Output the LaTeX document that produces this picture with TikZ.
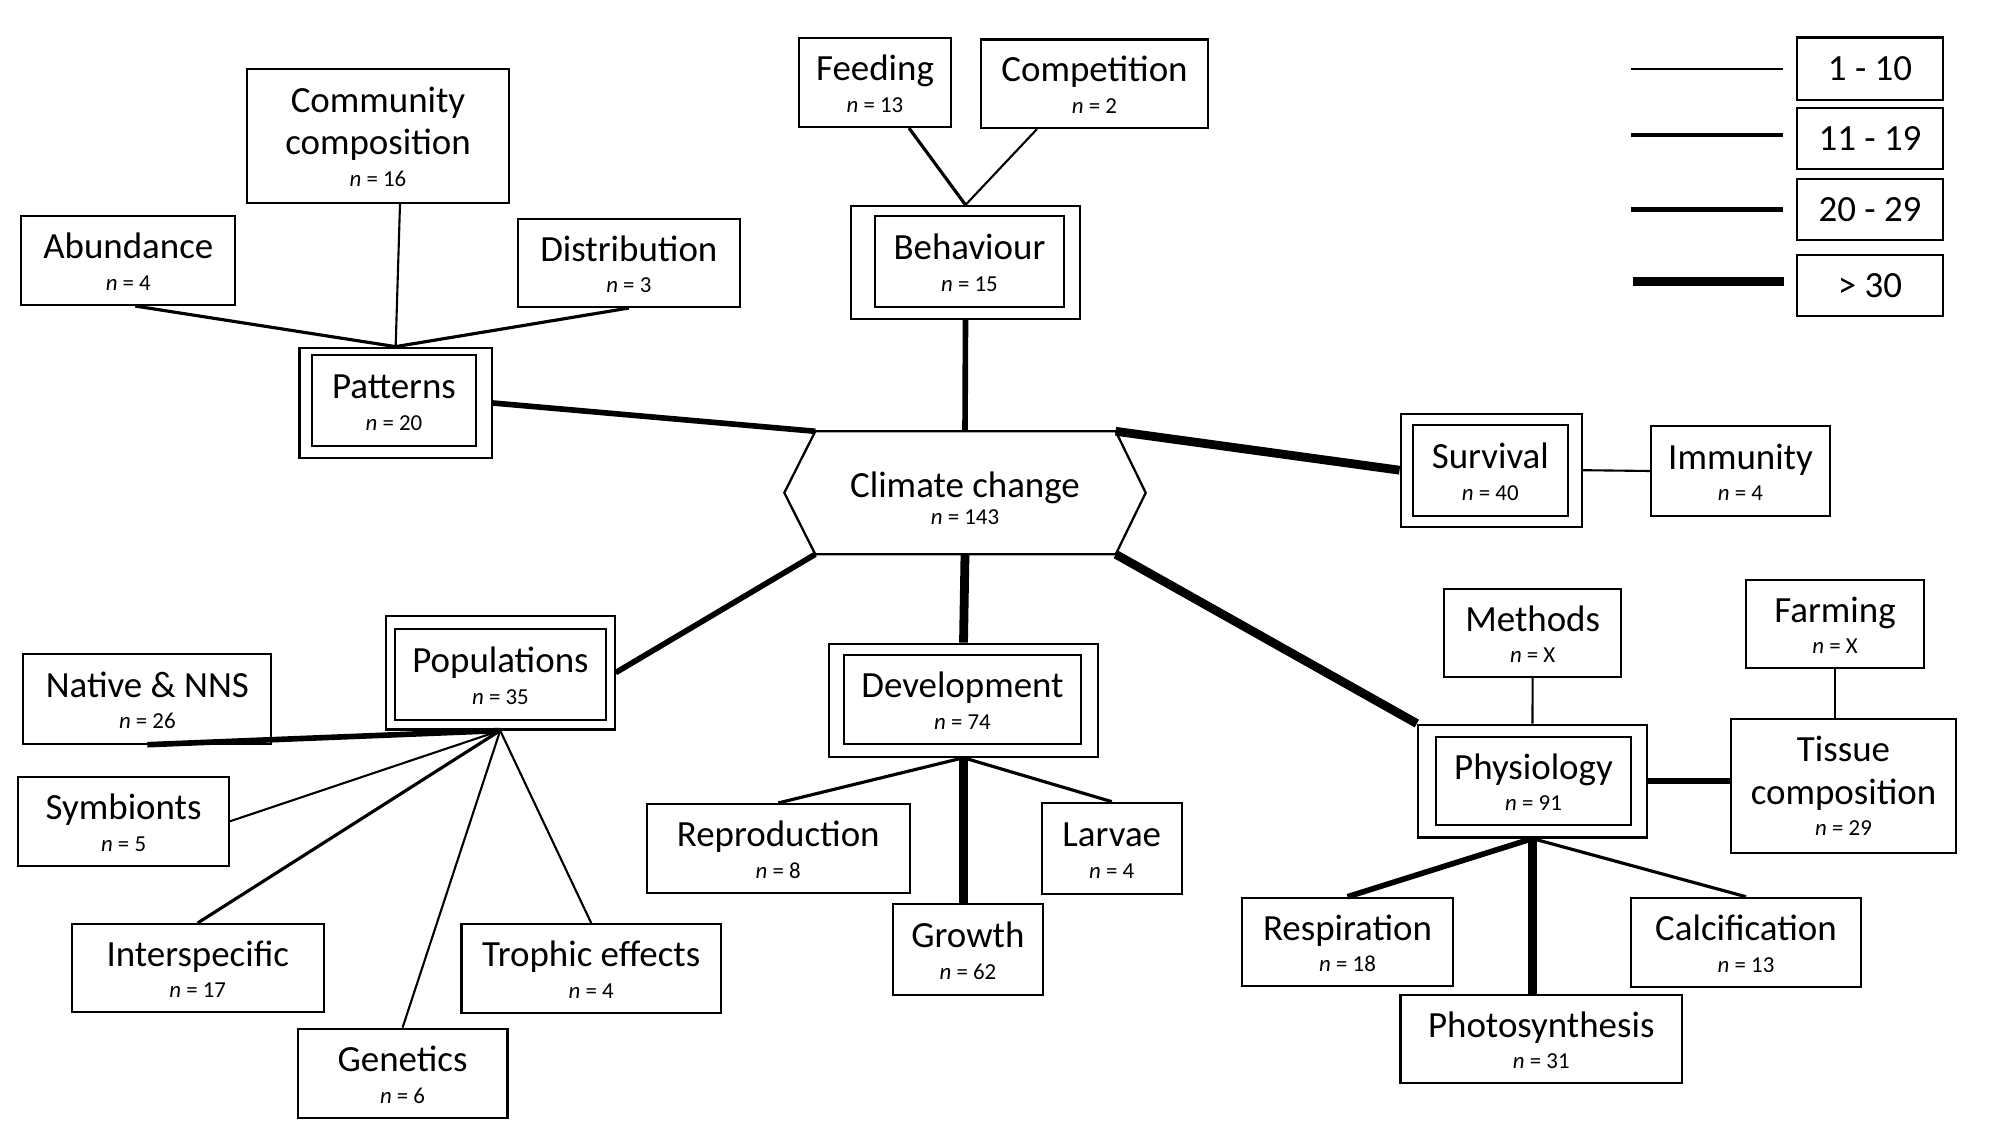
\documentclass[tikz,border=0pt]{standalone}
\usepackage{fontspec}
\setmainfont{Carlito}
\usetikzlibrary{calc}
\newcommand\nval[1]{{\fontsize{6.5}{7}\selectfont\textit{n} = #1}}
% #1 raise of first baseline above centre, #2 baseline skip, #3 title, #4 n
\newcommand\lab[4]{\smash{\raisebox{#1}{\vtop{\baselineskip=#2\lineskiplimit=-100pt\lineskip=0pt\halign{\hfil##\hfil\cr #3\cr\nval{#4}\cr}}}}}
\newcommand\lb[2]{\lab{0.5pt}{9pt}{#1}{#2}}
\tikzset{
  box/.style={draw, line width=0.6pt, inner sep=0pt, font=\fontsize{10.5}{12}\selectfont},
  sz/.style 2 args={minimum width=#1*0.01cm, minimum height=#2*0.01cm},
  wa/.style={line width=0.6pt},
  wb/.style={line width=0.9pt},
  wc/.style={line width=1.6pt},
  wd/.style={line width=2.5pt},
}
\begin{document}
\begin{tikzpicture}[x=0.01cm,y=-0.01cm]
\useasboundingbox (0,0) rectangle (2000,1125);

% ---------- legend ----------
\node[box,sz={146}{62.5}] (leg1) at (1870,68.75) {1 - 10};
\node[box,sz={146}{61}]   (leg2) at (1870,138.5) {11 - 19};
\node[box,sz={146}{61.4}] (leg3) at (1870,209.3) {20 - 29};
\node[box,sz={146}{61.4}] (leg4) at (1870,285.3) {> 30};
\coordinate (lg1a) at (1631,68.6);  \coordinate (lg1b) at (1783,68.6);
\coordinate (lg2a) at (1631,135);   \coordinate (lg2b) at (1783,135);
\coordinate (lg3a) at (1631,209.6); \coordinate (lg3b) at (1783,209.6);
\coordinate (lg4a) at (1633,281.8); \coordinate (lg4b) at (1784,281.8);
\draw[wa] (lg1a) -- (lg1b);
\draw[wb] (lg2a) -- (lg2b);
\draw[wc] (lg3a) -- (lg3b);
\draw[wd] (lg4a) -- (lg4b);

% ---------- centre hexagon ----------
\node[inner sep=0pt,sz={360}{121.6},font=\fontsize{10.5}{12}\selectfont] (hex) at (965,492.8)
  {\lab{-1.2pt}{7.7pt}{Climate change}{143}};
\coordinate (hexTL) at ($(hex.north west)+(31,0)$);
\coordinate (hexTR) at ($(hex.north east)+(-30,0)$);
\coordinate (hexBL) at ($(hex.south west)+(31,0)$);
\coordinate (hexBR) at ($(hex.south east)+(-30,0)$);
\draw[line width=0.65pt, line join=miter] (hex.west) -- (hexTL) -- (hexTR) -- (hex.east) -- (hexBR) -- (hexBL) -- cycle;

% ---------- behaviour ----------
\node[box,sz={152}{89}]   (feeding) at (875,82.5) {\lb{Feeding}{13}};
\node[box,sz={227}{88.5}] (competition) at (1094.5,83.75) {\lb{Competition}{2}};
\node[box,sz={229}{113}]  (behaviour) at (965.5,262.5) {};
\node[box,sz={189}{91}]   (behaviourIn) at (969.5,261.5) {\lb{Behaviour}{15}};

% ---------- patterns ----------
\node[box,sz={192.3}{110.6}] (patterns) at (395.65,403) {};
\node[box,sz={164}{91.3}]    (patternsIn) at (394,400.35) {\lb{Patterns}{20}};
\node[box,sz={261.3}{134}]   (community) at (378,136) {\lab{6.8pt}{9pt}{Community\cr\noalign{\vskip3.2pt}composition}{16}};
\node[box,sz={213.8}{89.3}]  (abundance) at (128.3,260.35) {\lb{Abundance}{4}};
\node[box,sz={221.9}{88.3}]  (distribution) at (628.85,262.85) {\lb{Distribution}{3}};

% ---------- survival ----------
\node[box,sz={181.4}{113.2}] (survival) at (1491.3,470.2) {};
\node[box,sz={155.4}{91.4}]  (survivalIn) at (1490.3,470.3) {\lb{Survival}{40}};
\node[box,sz={179}{90}]      (immunity) at (1740.5,471) {\lb{Immunity}{4}};

% ---------- populations ----------
\node[box,sz={228.8}{113.7}] (populations) at (500.2,672.65) {};
\node[box,sz={211}{91.3}]    (populationsIn) at (500.5,674.35) {\lb{Populations}{35}};
\node[box,sz={248.1}{89.3}]  (native) at (147.35,699) {\lb{Native \& NNS}{26}};
\node[box,sz={210.4}{89.3}]  (symbionts) at (123.6,821.35) {\lb{Symbionts}{5}};
\node[box,sz={252.1}{88}]    (interspecific) at (197.75,968) {\lb{Interspecific}{17}};
\node[box,sz={259.3}{88.7}]  (trophic) at (591.15,968.35) {\lb{Trophic effects}{4}};
\node[box,sz={209.9}{89.3}]  (genetics) at (402.55,1073.35) {\lb{Genetics}{6}};

% ---------- development ----------
\node[box,sz={269.8}{113}]  (development) at (963.5,700.2) {};
\node[box,sz={237.1}{89}]   (developmentIn) at (962.45,699.5) {\lb{Development}{74}};
\node[box,sz={262.9}{89}]   (reproduction) at (778.25,848.5) {\lb{Reproduction}{8}};
\node[box,sz={140.1}{91.3}] (larvae) at (1111.75,848.35) {\lb{Larvae}{4}};
\node[box,sz={150}{91}]     (growth) at (967.9,949.5) {\lb{Growth}{62}};

% ---------- physiology ----------
\node[box,sz={229.1}{112.9}] (physiology) at (1532.45,781.05) {};
\node[box,sz={195}{88.3}]    (physiologyIn) at (1533.5,780.85) {\lb{Physiology}{91}};
\node[box,sz={177.5}{88.4}]  (methods) at (1532.65,632.8) {\lb{Methods}{X}};
\node[box,sz={178}{88.4}]    (farming) at (1835,623.8) {\lb{Farming}{X}};
\node[box,sz={225}{134.3}]   (tissue) at (1843.5,785.85) {\lab{7pt}{9pt}{Tissue\cr\noalign{\vskip3.2pt}composition}{29}};
\node[box,sz={211}{88.2}]    (respiration) at (1347.5,941.9) {\lb{Respiration}{18}};
\node[box,sz={230}{89.2}]    (calcification) at (1746,942.4) {\lb{Calcification}{13}};
\node[box,sz={281.5}{88.8}]  (photosynthesis) at (1541.25,1039) {\lb{Photosynthesis}{31}};

% ---------- connectors ----------
% behaviour branch
\draw[wb] ($(feeding.south)+(34,0)$) -- (behaviour.north);
\draw[wa] ($(competition.south)+(-57.5,0)$) -- (behaviour.north);
\draw[wc] (behaviour.south) -- (hex.north);
% patterns branch
\draw[wb] ($(abundance.south)+(7,0)$) -- (patterns.north);
\draw[wa] ($(community.south)+(22,0)$) -- (patterns.north);
\draw[wb] (distribution.south) -- (patterns.north);
\draw[wc] (patterns.east) -- (hexTL);
% survival branch
\draw[wd] (survival.west) -- (hexTR);
\draw[wa] (survival.east) -- (immunity.west);
% populations branch
\draw[wc] (populations.east) -- (hexBL);
\draw[wc] (populations.south) -- (native.south);
\draw[wa] (populations.south) -- (symbionts.east);
\draw[wb] (populations.south) -- (interspecific.north);
\draw[wa] (populations.south) -- (genetics.north);
\draw[wa] (populations.south) -- (trophic.north);
% development branch
\draw[wd] (hex.south) -- (development.north);
\draw[wb] (development.south) -- (reproduction.north);
\draw[wb] (development.south) -- (larvae.north);
\draw[wd] (development.south) -- (development.south |- growth.north);
% physiology branch
\draw[wd] (hexBR) -- (physiology.north west);
\draw[wa] (methods.south) -- (physiology.north);
\draw[wa] (farming.south) -- (farming.south |- tissue.north);
\draw[wc] (physiology.east) -- (physiology.east -| tissue.west);
\draw[wc] (physiology.south) -- (respiration.north);
\draw[wb] (physiology.south) -- (calcification.north);
\draw[wd] (physiology.south) -- (physiology.south |- photosynthesis.north);
\end{tikzpicture}
\end{document}
